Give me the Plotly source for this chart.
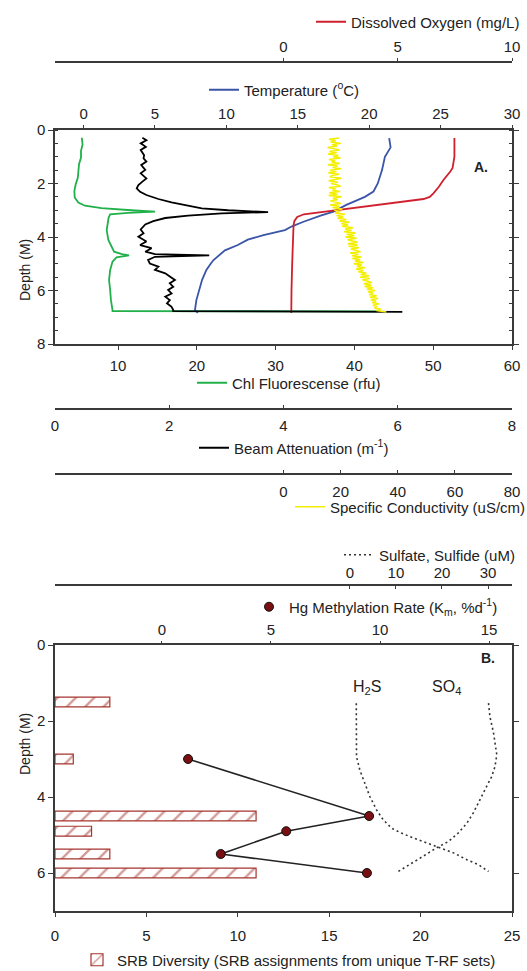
import plotly.graph_objects as go

# ---------------- Panel A data (depth in m) ----------------
do_depth = [0.3, 1.0, 1.42, 1.55, 1.87, 2.12, 2.37, 2.5, 2.58, 2.87, 3.15, 3.25, 3.4, 3.55, 3.93, 5.0, 6.0, 6.84]
do_vals = [7.48, 7.48, 7.4, 7.3, 7.0, 6.8, 6.56, 6.4, 6.13, 3.5, 0.89, 0.6, 0.48, 0.44, 0.42, 0.38, 0.35, 0.34]

temp_depth = [0.3, 0.65, 1.0, 1.5, 2.0, 2.3, 2.5, 2.8, 3.05, 3.2, 3.43, 3.6, 3.74, 3.85, 3.93, 4.1, 4.3,
              4.5, 4.67, 4.86, 5.0, 5.23, 5.6, 5.98, 6.36, 6.73, 6.84]
temp_vals = [21.4, 21.5, 21.1, 20.9, 20.6, 20.3, 19.7, 18.4, 17.5, 16.6, 15.4, 14.6, 14.1, 13.2, 12.6, 11.5, 10.8,
             9.9, 9.5, 9.1, 8.9, 8.6, 8.3, 8.1, 7.9, 7.8, 8.0]

chl_depth = [0.29, 0.54, 0.78, 1.03, 1.28, 1.53, 1.78, 2.03, 2.27, 2.52, 2.71, 2.83, 2.92, 3.0, 3.05, 3.1, 3.15,
             3.28, 3.53, 3.74, 4.11, 4.36, 4.55, 4.64, 4.69, 4.76, 4.92, 5.23, 5.61, 5.98, 6.36, 6.73, 6.77, 6.78]
chl_vals = [5.4, 5.5, 5.3, 5.3, 5.05, 4.96, 4.9, 4.63, 4.46, 4.5, 4.96, 5.8, 7.9, 11.7, 14.7, 11.3, 9.0,
            8.8, 8.7, 8.56, 8.77, 9.2, 9.5, 10.5, 11.4, 9.8, 9.3, 9.0, 8.86, 9.0, 9.1, 9.3, 9.3, 43.0]

beam_depth = [0.29, 0.38, 0.5, 0.63, 0.75, 0.94, 1.06, 1.18, 1.31, 1.49, 1.62, 1.81, 1.93, 2.06, 2.18,
              2.31, 2.43, 2.58, 2.71, 2.83, 2.93, 3.0, 3.07, 3.12, 3.2, 3.29, 3.41, 3.53, 3.72, 3.86,
              3.99, 4.17, 4.3, 4.42, 4.55, 4.64, 4.69, 4.74, 4.86, 4.99, 5.11, 5.23, 5.36, 5.48, 5.61,
              5.73, 5.86, 5.98, 6.11, 6.23, 6.36, 6.48, 6.61, 6.73, 6.77, 6.8]
beam_vals = [1.53, 1.60, 1.50, 1.59, 1.50, 1.56, 1.55, 1.60, 1.51, 1.58, 1.50, 1.60, 1.53, 1.46, 1.43,
             1.49, 1.60, 1.81, 2.04, 2.33, 2.57, 3.03, 3.73, 2.92, 2.33, 1.93, 1.72, 1.58, 1.50, 1.55,
             1.46, 1.60, 1.49, 1.69, 1.58, 1.75, 2.70, 1.75, 1.63, 1.66, 1.81, 1.75, 1.93, 2.01, 2.10,
             2.01, 2.07, 1.98, 2.04, 1.93, 2.01, 1.96, 2.04, 2.07, 2.07, 6.08]

cond_depth = [0.30, 0.35, 0.40, 0.45, 0.50, 0.55, 0.60, 0.65, 0.70, 0.75,
              0.80, 0.85, 0.90, 0.95, 1.00, 1.05, 1.10, 1.15, 1.20, 1.25,
              1.30, 1.35, 1.40, 1.45, 1.50, 1.55, 1.60, 1.65, 1.70, 1.75,
              1.80, 1.85, 1.90, 1.95, 2.00, 2.05, 2.10, 2.15, 2.20, 2.25,
              2.30, 2.35, 2.40, 2.45, 2.50, 2.55, 2.60, 2.65, 2.70, 2.75,
              2.80, 2.85, 2.90, 2.95, 3.00, 3.05, 3.10, 3.15, 3.20, 3.25,
              3.30, 3.35, 3.40, 3.45, 3.50, 3.55, 3.60, 3.65, 3.70, 3.75,
              3.80, 3.85, 3.90, 3.95, 4.00, 4.05, 4.10, 4.15, 4.20, 4.25,
              4.30, 4.35, 4.40, 4.45, 4.50, 4.55, 4.60, 4.65, 4.70, 4.75,
              4.80, 4.85, 4.90, 4.95, 5.00, 5.05, 5.10, 5.15, 5.20, 5.25,
              5.30, 5.35, 5.40, 5.45, 5.50, 5.55, 5.60, 5.65, 5.70, 5.75,
              5.80, 5.85, 5.90, 5.95, 6.00, 6.05, 6.10, 6.15, 6.20, 6.25,
              6.30, 6.35, 6.40, 6.45, 6.50, 6.55, 6.60, 6.65, 6.70, 6.75,
              6.80]
cond_vals = [19.4, 15.9, 18.3, 16.5, 20.1, 17.0, 18.8, 15.4, 17.9, 19.6,
             16.1, 18.6, 15.6, 19.2, 17.4, 20.0, 15.9, 18.1, 16.8, 19.7,
             15.5, 18.9, 17.2, 20.2, 16.3, 18.5, 15.7, 19.4, 17.0, 16.2,
             20.3, 17.6, 15.8, 19.1, 16.6, 18.7, 20.0, 15.9, 18.2, 17.1,
             19.8, 16.0, 18.9, 15.8, 20.4, 17.3, 19.0, 16.4, 18.4, 20.1,
             16.3, 19.5, 17.2, 20.6, 17.8, 19.9, 18.1, 21.5, 18.6, 20.9,
             18.9, 22.0, 19.6, 23.1, 20.2, 22.6, 20.5, 24.4, 21.6, 23.9,
             21.2, 25.3, 22.1, 24.8, 21.7, 25.6, 22.4, 24.1, 26.0, 22.5,
             25.9, 22.8, 26.4, 23.6, 25.1, 27.0, 23.3, 26.2, 24.0, 27.3,
             24.1, 26.8, 25.0, 28.0, 24.6, 27.4, 25.7, 28.5, 25.4, 27.9,
             26.2, 29.0, 27.0, 29.9, 26.8, 30.2, 27.6, 29.4, 31.0, 28.1,
             30.8, 28.4, 31.3, 29.2, 32.0, 29.6, 31.4, 30.0, 32.6, 30.3,
             33.1, 30.6, 32.4, 31.0, 33.5, 31.3, 32.8, 31.8, 34.1, 32.5,
             36.0]

# ---------------- Panel B data ----------------
srb_depth = [1.5, 3.0, 4.5, 4.9, 5.5, 6.0]
srb_vals = [3, 1, 11, 2, 3, 11]

hg_depth = [3.0, 4.5, 4.9, 5.5, 6.0]
hg_vals = [1.2, 9.5, 5.7, 2.7, 9.4]

sulfide_depth = [1.53, 2.2, 2.94, 3.29, 3.63, 3.99, 4.34, 4.6, 4.82, 4.95, 5.08, 5.21, 5.34, 5.47, 5.65, 5.78, 5.96]
sulfide_vals = [1.4, 1.4, 1.45, 2.17, 3.26, 4.35, 5.8, 7.25, 9.06, 11.2, 13.8, 16.7, 19.6, 22.5, 25.4, 27.9, 30.1]

sulfate_depth = [1.53, 1.88, 2.32, 2.67, 2.89, 3.2, 3.46, 3.72, 4.07, 4.42, 4.69, 4.95, 5.17, 5.34, 5.56, 5.78, 5.96]
sulfate_vals = [30.1, 30.4, 31.2, 31.7, 31.9, 31.5, 30.8, 29.7, 28.3, 26.8, 25.4, 23.5, 21.4, 18.8, 15.9, 13.0, 10.5]

# ---------------- layout helpers ----------------
W, H = 527, 971
FONT = "Liberation Sans, Arial, Helvetica, sans-serif"
TXT = "#222222"
AX = "#3a3a3a"


def px(x):
    return x / W


def py(y):
    return 1 - y / H


XDOM = [px(55), px(512)]
A_DOM = [py(344), py(130)]
B_DOM = [py(911), py(645)]


def axis(**kw):
    d = dict(showline=True, linecolor=AX, linewidth=1.5, ticks="outside", ticklen=4,
             tickcolor=AX, tickwidth=1.2, showgrid=False, zeroline=False,
             tickfont=dict(size=15, family=FONT, color=TXT), automargin=False)
    d.update(kw)
    return d


def legend(text_x, yc):
    return dict(x=px(text_x - 38), y=py(yc), xref="container", yref="container",
                xanchor="left", yanchor="middle",
                bgcolor="rgba(0,0,0,0)", borderwidth=0,
                font=dict(size=15, family=FONT, color=TXT), itemclick=False, itemdoubleclick=False)


RED = "#d0202e"
BLUE = "#3a55a8"
GREEN = "#22b04b"
YELLOW = "#f4ef00"
BROWN = "#a5352e"

fig = go.Figure()

# Panel A traces
fig.add_trace(go.Scatter(x=beam_vals, y=beam_depth, mode="lines", line=dict(color="black", width=1.8),
                         name="Beam Attenuation (m<sup>-1</sup>)", xaxis="x4", yaxis="y", legend="legend4"))
fig.add_trace(go.Scatter(x=chl_vals, y=chl_depth, mode="lines", line=dict(color=GREEN, width=1.8),
                         name="Chl Fluorescense (rfu)", xaxis="x", yaxis="y", legend="legend3"))
fig.add_trace(go.Scatter(x=temp_vals, y=temp_depth, mode="lines", line=dict(color=BLUE, width=1.8),
                         name="Temperature (<sup>o</sup>C)", xaxis="x2", yaxis="y", legend="legend2"))
fig.add_trace(go.Scatter(x=cond_vals, y=cond_depth, mode="lines", line=dict(color=YELLOW, width=1.5),
                         name="Specific Conductivity (uS/cm)", xaxis="x5", yaxis="y", legend="legend5"))
fig.add_trace(go.Scatter(x=do_vals, y=do_depth, mode="lines", line=dict(color=RED, width=1.8),
                         name="Dissolved Oxygen (mg/L)", xaxis="x3", yaxis="y", legend="legend"))

# Panel B traces
fig.add_trace(go.Bar(x=srb_vals, y=srb_depth, orientation="h", width=0.26, xaxis="x6", yaxis="y2",
                     marker=dict(color=BROWN, line=dict(color=BROWN, width=1.2),
                                 pattern=dict(shape="/", fgcolor=BROWN, bgcolor="white", size=13, solidity=0.18)),
                     name="SRB Diversity (SRB assignments from unique T-RF sets)", legend="legend8"))
fig.add_trace(go.Scatter(x=sulfate_vals, y=sulfate_depth, mode="lines", xaxis="x8", yaxis="y2",
                         line=dict(color="#333333", width=1.6, dash="2px,3px"),
                         name="Sulfate, Sulfide (uM)", legend="legend6"))
fig.add_trace(go.Scatter(x=sulfide_vals, y=sulfide_depth, mode="lines", xaxis="x8", yaxis="y2",
                         line=dict(color="#333333", width=1.6, dash="2px,3px"), showlegend=False))
fig.add_trace(go.Scatter(x=hg_vals, y=hg_depth, mode="lines", xaxis="x7", yaxis="y2",
                         line=dict(color="#222222", width=1.6), showlegend=False))
fig.add_trace(go.Scatter(x=hg_vals, y=hg_depth, mode="markers", xaxis="x7", yaxis="y2",
                         marker=dict(color="#7a0f12", size=9, line=dict(color="#111111", width=1)),
                         name="Hg Methylation Rate (K<sub>m</sub>, %d<sup>-1</sup>)", legend="legend7"))

ANN_FONT = dict(size=14, family=FONT, color=TXT)

fig.update_layout(
    width=W, height=H, margin=dict(l=0, r=0, t=0, b=0, autoexpand=False),
    paper_bgcolor="white", plot_bgcolor="white",
    font=dict(family=FONT, size=15, color=TXT),
    barmode="overlay",
    xaxis=axis(domain=XDOM, anchor="y", side="bottom", range=[2, 60], tickvals=[10, 20, 30, 40, 50, 60],
               ticklabelstandoff=3),
    xaxis2=axis(domain=XDOM, overlaying="x", anchor="y", side="top", range=[-2, 30],
                tickvals=[0, 5, 10, 15, 20, 25, 30], ticklen=3),
    xaxis3=axis(domain=XDOM, overlaying="x", anchor="free", position=py(62), side="top", range=[-10, 10],
                tickvals=[0, 5, 10], ticklen=3),
    xaxis4=axis(domain=XDOM, overlaying="x", anchor="free", position=py(409), side="bottom", range=[0, 8],
                tickvals=[0, 2, 4, 6, 8], ticks="inside", ticklen=3, ticklabelstandoff=3),
    xaxis5=axis(domain=XDOM, overlaying="x", anchor="free", position=py(474), side="bottom", range=[-80, 80],
                tickvals=[0, 20, 40, 60, 80], ticks="inside", ticklen=3, ticklabelstandoff=4),
    yaxis=axis(domain=A_DOM, anchor="x", range=[8, 0], tickvals=[0, 2, 4, 6, 8], mirror="ticks", ticklen=5,
               minor=dict(ticks="inside", dtick=0.5, ticklen=3, tickcolor=AX)),
    xaxis6=axis(domain=XDOM, anchor="y2", side="bottom", range=[0, 25], tickvals=[0, 5, 10, 15, 20, 25],
                ticklabelstandoff=6),
    xaxis7=axis(domain=XDOM, overlaying="x6", anchor="y2", side="top", range=[-4.9, 16.05],
                tickvals=[0, 5, 10, 15], ticklen=2),
    xaxis8=axis(domain=XDOM, overlaying="x6", anchor="free", position=py(585), side="top", range=[-64, 35.2],
                tickvals=[0, 10, 20, 30], ticks="inside", ticklen=3),
    yaxis2=axis(domain=B_DOM, anchor="x6", range=[7, 0], tickvals=[0, 2, 4, 6], mirror="ticks", ticklen=5),
    legend=legend(349, 22),
    legend2=legend(242, 90),
    legend3=legend(230, 383),
    legend4=legend(232, 448),
    legend5=legend(328, 507),
    legend6=legend(377, 555),
    legend7=legend(287, 607),
    legend8=legend(115, 960),
    annotations=[
        dict(text="Depth (M)", x=px(15), y=py(237), xref="paper", yref="paper", showarrow=False,
             textangle=-90, font=ANN_FONT),
        dict(text="Depth (M)", x=px(15), y=py(777), xref="paper", yref="paper", showarrow=False,
             textangle=-90, font=ANN_FONT),
        dict(text="<b>A.</b>", x=px(490), y=py(157), xref="paper", yref="paper", showarrow=False,
             font=ANN_FONT),
        dict(text="<b>B.</b>", x=px(497), y=py(668), xref="paper", yref="paper", showarrow=False,
             font=ANN_FONT),
        dict(text="H<sub>2</sub>S", x=px(383), y=py(699), xref="paper", yref="paper", showarrow=False,
             font=dict(size=16, family=FONT, color=TXT)),
        dict(text="SO<sub>4</sub>", x=px(463), y=py(699), xref="paper", yref="paper", showarrow=False,
             font=dict(size=16, family=FONT, color=TXT)),
    ],
)

# remove the browser's default 8px body margin so the figure sits at the window origin
fig.write_html("out.html", config={"displayModeBar": False},
               post_script="document.body.style.margin='0';")
